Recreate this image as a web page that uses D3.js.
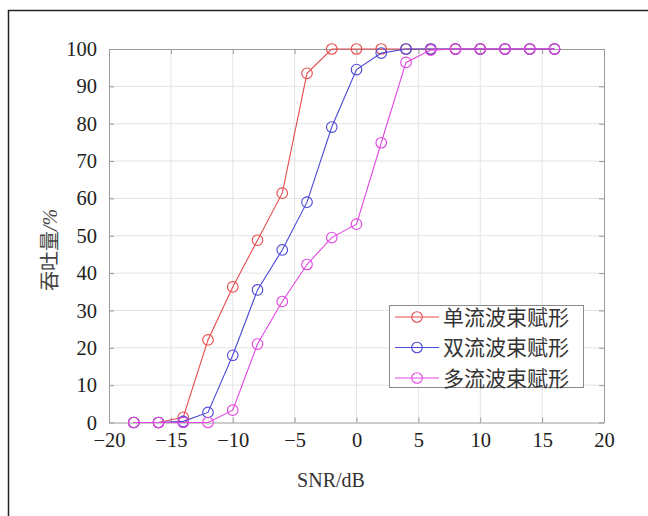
<!DOCTYPE html>
<html>
<head>
<meta charset="utf-8">
<script src="https://cdn.jsdelivr.net/npm/d3@7"></script>
<style>
  html, body { margin: 0; padding: 0; background: #fff; }
  svg { display: block; }
</style>
</head>
<body>
<svg id="chart" width="648" height="516"></svg>
<script>
// SNR sample points (dB)
const snr = [-18, -16, -14, -12, -10, -8, -6, -4, -2, 0, 2, 4, 6, 8, 10, 12, 14, 16];

// Throughput (%) for each beamforming scheme
const singleStream = [0, 0, 1.4, 22.1, 36.3, 48.8, 61.4, 93.5, 100, 100, 100, 100, 100, 100, 100, 100, 100, 100];
const dualStream   = [0, 0, 0.3, 2.7, 18.0, 35.5, 46.2, 59.0, 79.1, 94.5, 98.9, 100, 100, 100, 100, 100, 100, 100];
const multiStream  = [0, 0, 0, 0, 3.3, 21.0, 32.4, 42.3, 49.5, 53.1, 74.9, 96.4, 99.7, 100, 100, 100, 100, 100];

const seriesNames  = ["单流波束赋形", "双流波束赋形", "多流波束赋形"];
const seriesColors = ["#e64b4e", "#4a48d6", "#e246e2"];
const seriesValues = [singleStream, dualStream, multiStream];

const xTicks = [-20, -15, -10, -5, 0, 5, 10, 15, 20];
const yTicks = [0, 10, 20, 30, 40, 50, 60, 70, 80, 90, 100];

const svg = d3.select("#chart");
const serif = "'Liberation Serif', 'Times New Roman', serif";
const cjk = "'Noto Sans CJK SC', sans-serif";

// outer frame (top and left edges)
svg.append("path")
  .attr("d", "M8.5,516 L8.5,10.5 L648,10.5")
  .attr("fill", "none").attr("stroke", "#222").attr("stroke-width", 1.5);

const L = 109, R = 604, T = 49, B = 422.5;
const x = d3.scaleLinear().domain([-20, 20]).range([L, R]);
const y = d3.scaleLinear().domain([0, 100]).range([B, T]);

// grid
const grid = svg.append("g").attr("stroke", "#e4e4e4").attr("stroke-width", 1);
xTicks.slice(1, -1).forEach(t => grid.append("line")
  .attr("x1", x(t)).attr("x2", x(t)).attr("y1", T).attr("y2", B));
yTicks.slice(1, -1).forEach(t => grid.append("line")
  .attr("x1", L).attr("x2", R).attr("y1", y(t)).attr("y2", y(t)));

// axes with inward ticks on all four sides
const axisStyle = g => {
  g.select(".domain").attr("stroke", "#9a9a9a");
  g.selectAll(".tick line").attr("stroke", "#9a9a9a");
  g.selectAll("text").attr("font-family", serif).attr("font-size", 20.5).attr("fill", "#222");
};
svg.append("g").attr("transform", `translate(0,${B})`)
  .call(d3.axisBottom(x).tickValues(xTicks).tickSizeInner(-5).tickSizeOuter(0).tickPadding(10)
    .tickFormat(d => d < 0 ? "\u2212" + Math.abs(d) : d))
  .call(axisStyle)
  .call(g => g.selectAll("text").attr("dy", "0.71em"));
svg.append("g").attr("transform", `translate(0,${T})`)
  .call(d3.axisTop(x).tickValues(xTicks).tickSizeInner(-5).tickSizeOuter(0).tickFormat(""))
  .call(axisStyle);
svg.append("g").attr("transform", `translate(${L},0)`)
  .call(d3.axisLeft(y).tickValues(yTicks).tickSizeInner(-5).tickSizeOuter(0).tickPadding(12))
  .call(axisStyle);
svg.append("g").attr("transform", `translate(${R},0)`)
  .call(d3.axisRight(y).tickValues(yTicks).tickSizeInner(-5).tickSizeOuter(0).tickFormat(""))
  .call(axisStyle);

// axis titles
svg.append("text")
  .attr("x", 331).attr("y", 487)
  .attr("text-anchor", "middle")
  .attr("font-family", serif).attr("font-size", 20).attr("fill", "#333")
  .text("SNR/dB");
const yl = svg.append("text")
  .attr("transform", "translate(57,250) rotate(-90)")
  .attr("text-anchor", "middle")
  .attr("fill", "#444");
yl.append("tspan").attr("font-family", cjk).attr("font-size", 20).text("吞吐量");
yl.append("tspan").attr("font-family", serif).attr("font-size", 20).attr("font-style", "italic").text("/%");

// series
const line = d3.line().x((d, i) => x(snr[i])).y(d => y(d));
seriesValues.forEach((vals, s) => {
  const g = svg.append("g");
  g.append("path").datum(vals)
    .attr("d", line)
    .attr("fill", "none").attr("stroke", seriesColors[s]).attr("stroke-width", 1.1);
  g.selectAll("circle").data(vals).join("circle")
    .attr("cx", (d, i) => x(snr[i])).attr("cy", d => y(d))
    .attr("r", 5.3)
    .attr("fill", "none").attr("stroke", seriesColors[s]).attr("stroke-width", 1.1);
});

// legend
const lg = svg.append("g").attr("transform", "translate(389,305)");
lg.append("rect").attr("x", 0.5).attr("y", 0.5).attr("width", 194).attr("height", 82)
  .attr("fill", "#fff").attr("stroke", "#8a8a8a").attr("stroke-width", 1);
seriesNames.forEach((name, i) => {
  const cy = 12 + i * 30.5;
  lg.append("line").attr("x1", 6).attr("x2", 50).attr("y1", cy).attr("y2", cy)
    .attr("stroke", seriesColors[i]).attr("stroke-width", 1.1);
  lg.append("circle").attr("cx", 28).attr("cy", cy).attr("r", 5.3)
    .attr("fill", "none").attr("stroke", seriesColors[i]).attr("stroke-width", 1.1);
  lg.append("text").attr("x", 54).attr("y", cy).attr("dy", "0.36em")
    .attr("font-family", cjk).attr("font-size", 21).attr("fill", "#333")
    .text(name);
});
</script>
</body>
</html>
